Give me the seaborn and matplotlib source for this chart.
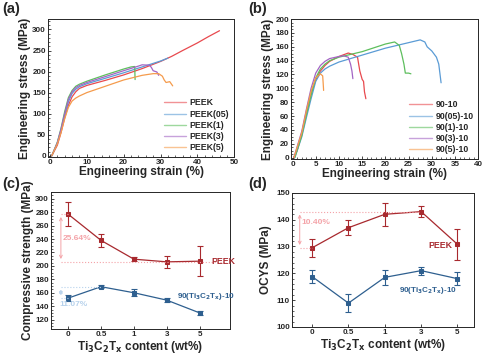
import numpy as np
import pandas as pd
import matplotlib
matplotlib.use("Agg")
import matplotlib.pyplot as plt
import seaborn as sns

# ---- panel (a): stress-strain curves, PEEK series ----
a_names = ["PEEK", "PEEK(05)", "PEEK(1)", "PEEK(3)", "PEEK(5)"]
a_peek_x = [0.5, 2, 3, 4, 5, 6, 7, 8, 10, 15, 20, 25, 30, 33, 36, 40, 43, 46]
a_peek_y = [0, 25, 55, 90, 120, 140, 152, 160, 167, 179, 192, 207, 224, 236, 250, 268, 283, 297]
a_p05_x = [0.5, 2, 3, 4, 5, 6, 7, 8, 10, 15, 20, 25, 30, 32]
a_p05_y = [0, 30, 60, 95, 128, 148, 158, 164, 171, 184, 197, 211, 225, 232]
a_p1_x = [0.5, 2, 3, 4, 5, 6, 7, 8, 10, 15, 20, 22, 23, 23.05, 23.1]
a_p1_y = [0, 32, 65, 105, 138, 155, 165, 170, 177, 192, 206, 211, 212, 195, 181]
a_p3_x = [0.5, 2, 3, 4, 5, 6, 7, 8, 10, 15, 20, 24, 25, 27, 27.5, 28, 29, 29.5]
a_p3_y = [0, 31, 63, 100, 134, 152, 162, 167, 174, 188, 202, 213, 216, 215, 210, 202, 199, 191]
a_p5_x = [0.5, 2, 3, 4, 5, 6, 7, 8, 10, 15, 20, 25, 28, 29.5, 30.5, 31, 31.5, 32.5, 33.3]
a_p5_y = [0, 28, 55, 88, 115, 130, 137, 142, 150, 165, 180, 191, 195, 195, 189, 180, 174, 176, 166]

# ---- panel (b): stress-strain curves, 90-10 series ----
b_names = ["90-10", "90(05)-10", "90(1)-10", "90(3)-10", "90(5)-10"]
b_r_x = [0.3, 1, 2, 3, 4, 5, 6, 7, 8, 10, 12, 13, 14, 14.5, 15, 15.3, 15.5, 15.8]
b_r_y = [0, 10, 35, 65, 92, 112, 125, 133, 139, 146, 151, 149, 145, 125, 113, 110, 95, 85]
b_b_x = [0.5, 2, 3, 4, 5, 6, 7, 8, 10, 15, 20, 25, 27.5, 28.5, 29, 30, 31, 31.5, 32]
b_b_y = [0, 30, 58, 85, 110, 122, 128, 132, 138, 148, 158, 166, 170, 167, 160, 154, 145, 135, 108]
b_g_x = [0.5, 2, 3, 4, 5, 6, 7, 8, 10, 15, 20, 22, 23, 23.5, 24, 24.3, 25, 25.5]
b_g_y = [0, 32, 62, 90, 115, 128, 135, 140, 145, 153, 164, 167, 162, 150, 135, 122, 122, 121]
b_p_x = [0.3, 2, 3, 4, 5, 6, 7, 8, 10, 11, 12, 12.5, 12.8, 13]
b_p_y = [0, 38, 70, 100, 122, 133, 139, 143, 146, 147, 145, 135, 125, 114]
b_o_x = [0.3, 2, 3, 4, 5, 6, 6.5, 6.6, 6.7]
b_o_y = [0, 36, 68, 96, 115, 121, 118, 108, 97]

curve_colors = ["#E8494E", "#5A9BD5", "#5DBE5D", "#A365C4", "#F59B4C"]

# ---- panels (c) and (d): strength vs content ----
contents = ["0", "0.5", "1", "3", "5"]
c_peek = [277, 238, 210, 206, 207]
c_peek_err = [18, 10, 3, 9, 22]
c_ti = [152, 169, 160, 149, 130]
c_ti_err = [4, 2, 5, 3, 3]
d_peek = [129.5, 137.0, 142.0, 143.0, 130.8]
d_peek_err = [3.3, 2.8, 4.2, 2.0, 5.8]
d_ti = [118.8, 108.9, 118.5, 121.0, 118.0]
d_ti_err = [2.5, 3.5, 2.7, 1.5, 2.5]

red_dark = "#A8292E"
blue_dark = "#2E5F8F"

sns.set_style("ticks")
plt.rcParams["font.family"] = ["Liberation Sans", "DejaVu Sans"]
plt.rcParams["font.weight"] = "bold"
plt.rcParams["axes.labelweight"] = "bold"
plt.rcParams["xtick.direction"] = "in"
plt.rcParams["ytick.direction"] = "in"
plt.rcParams["axes.linewidth"] = 0.8

fig = plt.figure(figsize=(4.86, 3.54), dpi=100)
ax_a = fig.add_axes([0.099, 0.5565, 0.383, 0.390])
ax_b = fig.add_axes([0.599, 0.551, 0.385, 0.395])
ax_c = fig.add_axes([0.105, 0.0706, 0.368, 0.387])
ax_d = fig.add_axes([0.601, 0.0763, 0.374, 0.379])


def curves_frame(names, xs, ys):
    rows = []
    for n, x, y in zip(names, xs, ys):
        for i, (xi, yi) in enumerate(zip(x, y)):
            rows.append({"sample": n, "strain": xi, "stress": yi, "i": i})
    return pd.DataFrame(rows)


df_a = curves_frame(a_names, [a_peek_x, a_p05_x, a_p1_x, a_p3_x, a_p5_x],
                    [a_peek_y, a_p05_y, a_p1_y, a_p3_y, a_p5_y])
df_b = curves_frame(b_names, [b_r_x, b_b_x, b_g_x, b_p_x, b_o_x],
                    [b_r_y, b_b_y, b_g_y, b_p_y, b_o_y])

for ax, df, names in [(ax_a, df_a, a_names), (ax_b, df_b, b_names)]:
    sns.lineplot(data=df, x="strain", y="stress", hue="sample", hue_order=names,
                 palette=curve_colors, sort=False, estimator=None, units="sample",
                 lw=0.9, ax=ax)
    leg = ax.legend(loc="lower right", frameon=False, fontsize=6.3, handlelength=2.6,
                    labelspacing=0.25, borderaxespad=0.15, handletextpad=0.4)
    for line in leg.get_lines():
        line.set_linewidth(1.0)
        line.set_alpha(0.6)
    ax.set_xlabel("Engineering strain (%)", fontsize=8.5, labelpad=0)
    ax.set_ylabel("Engineering stress (MPa)", fontsize=8.5, labelpad=1)

ax_a.set_xlim(-0.5, 50)
ax_a.set_ylim(-3, 325)
ax_a.set_xticks(range(0, 51, 10))
ax_a.set_yticks(range(0, 301, 50))
ax_b.set_xlim(-0.3, 40)
ax_b.set_ylim(-2, 200)
ax_b.set_xticks(range(0, 41, 5))
ax_b.set_yticks(range(0, 201, 20))

ti_label = "Ti$_\\mathbf{3}$C$_\\mathbf{2}$T$_\\mathbf{x}$ content (wt%)"
ti_series = "90(Ti$_\\mathbf{3}$C$_\\mathbf{2}$T$_\\mathbf{x}$)-10"
pos = np.arange(len(contents))

for ax, pk, pke, ti, tie in [(ax_c, c_peek, c_peek_err, c_ti, c_ti_err),
                             (ax_d, d_peek, d_peek_err, d_ti, d_ti_err)]:
    for vals, errs, col in [(pk, pke, red_dark), (ti, tie, blue_dark)]:
        sns.lineplot(x=pos, y=vals, color=col, marker="s", markersize=3.2,
                     markeredgecolor=col, lw=0.9, ax=ax)
        ax.errorbar(pos, vals, yerr=errs, fmt="none", ecolor=col, elinewidth=0.8,
                    capsize=2.2, capthick=0.8)
    ax.set_xticks(pos)
    ax.set_xticklabels(contents)
    ax.set_xlabel(ti_label, fontsize=8.5, labelpad=1)

ax_c.set_xlim(-0.52, 4.92)
ax_c.set_ylim(106, 310)
ax_c.set_yticks(range(120, 301, 20))
ax_c.set_ylabel("Compressive strength (MPa)", fontsize=8.5, labelpad=1)
ax_d.set_xlim(-0.55, 4.45)
ax_d.set_ylim(100, 150)
ax_d.set_yticks(range(100, 151, 10))
ax_d.set_ylabel("OCYS (MPa)", fontsize=8.5, labelpad=3)

# annotations in (c)
pink = "#F4A3A8"
lblue = "#B7D2EC"
ax_c.plot([-0.22, 0], [c_peek[0], c_peek[0]], ls=":", color=pink, lw=0.8)
ax_c.plot([-0.22, 4.8], [c_peek[3], c_peek[3]], ls=":", color=pink, lw=0.8)
ax_c.annotate("", xy=(-0.22, c_peek[0]), xytext=(-0.22, c_peek[3]),
              arrowprops=dict(arrowstyle="<->", color=pink, lw=0.7, mutation_scale=5))
ax_c.text(-0.18, 241, "25.64%", color=pink, fontsize=6, va="center")
ax_c.plot([-0.22, 1.0], [c_ti[1], c_ti[1]], ls=":", color=lblue, lw=0.8)
ax_c.plot([-0.22, 0], [c_ti[0], c_ti[0]], ls=":", color=lblue, lw=0.8)
ax_c.annotate("", xy=(-0.22, c_ti[1]), xytext=(-0.22, c_ti[0]),
              arrowprops=dict(arrowstyle="<->", color=lblue, lw=0.7, mutation_scale=5))
ax_c.text(-0.27, 142, "11.07%", color=lblue, fontsize=6, va="center")
ax_c.text(4.35, 206, "PEEK", color=red_dark, fontsize=6.3, va="center")
ax_c.text(3.3, 155, ti_series, color=blue_dark, fontsize=5.8, va="center")

# annotations in (d)
ax_d.plot([-0.34, 2.95], [d_peek[3], d_peek[3]], ls=":", color=pink, lw=0.8)
ax_d.plot([-0.34, 0], [d_peek[0], d_peek[0]], ls=":", color=pink, lw=0.8)
ax_d.annotate("", xy=(-0.34, d_peek[3]), xytext=(-0.34, d_peek[0]),
              arrowprops=dict(arrowstyle="<->", color=pink, lw=0.7, mutation_scale=5))
ax_d.text(-0.28, 139.0, "10.40%", color=pink, fontsize=6, va="center")
ax_d.text(3.2, 130.3, "PEEK", color=red_dark, fontsize=6.3, va="center")
ax_d.text(2.4, 113.5, ti_series, color=blue_dark, fontsize=5.8, va="center")

for ax in [ax_a, ax_b, ax_c, ax_d]:
    ax.tick_params(labelsize=5.8, length=2.5, width=0.6, pad=1.5, top=False, right=False)
    ax.minorticks_on()
    ax.tick_params(which="minor", length=1.5, width=0.5)
    if ax in (ax_c, ax_d):
        ax.tick_params(axis="x", which="minor", bottom=False)
    for s in ax.spines.values():
        s.set_linewidth(0.7)

for label, x, y in [("(a)", 0.005, 0.995), ("(b)", 0.51, 0.995),
                    ("(c)", 0.005, 0.5), ("(d)", 0.51, 0.5)]:
    fig.text(x, y, label, fontsize=10.5, fontweight="bold", va="top", ha="left")

fig.savefig("out.png", dpi=100)
